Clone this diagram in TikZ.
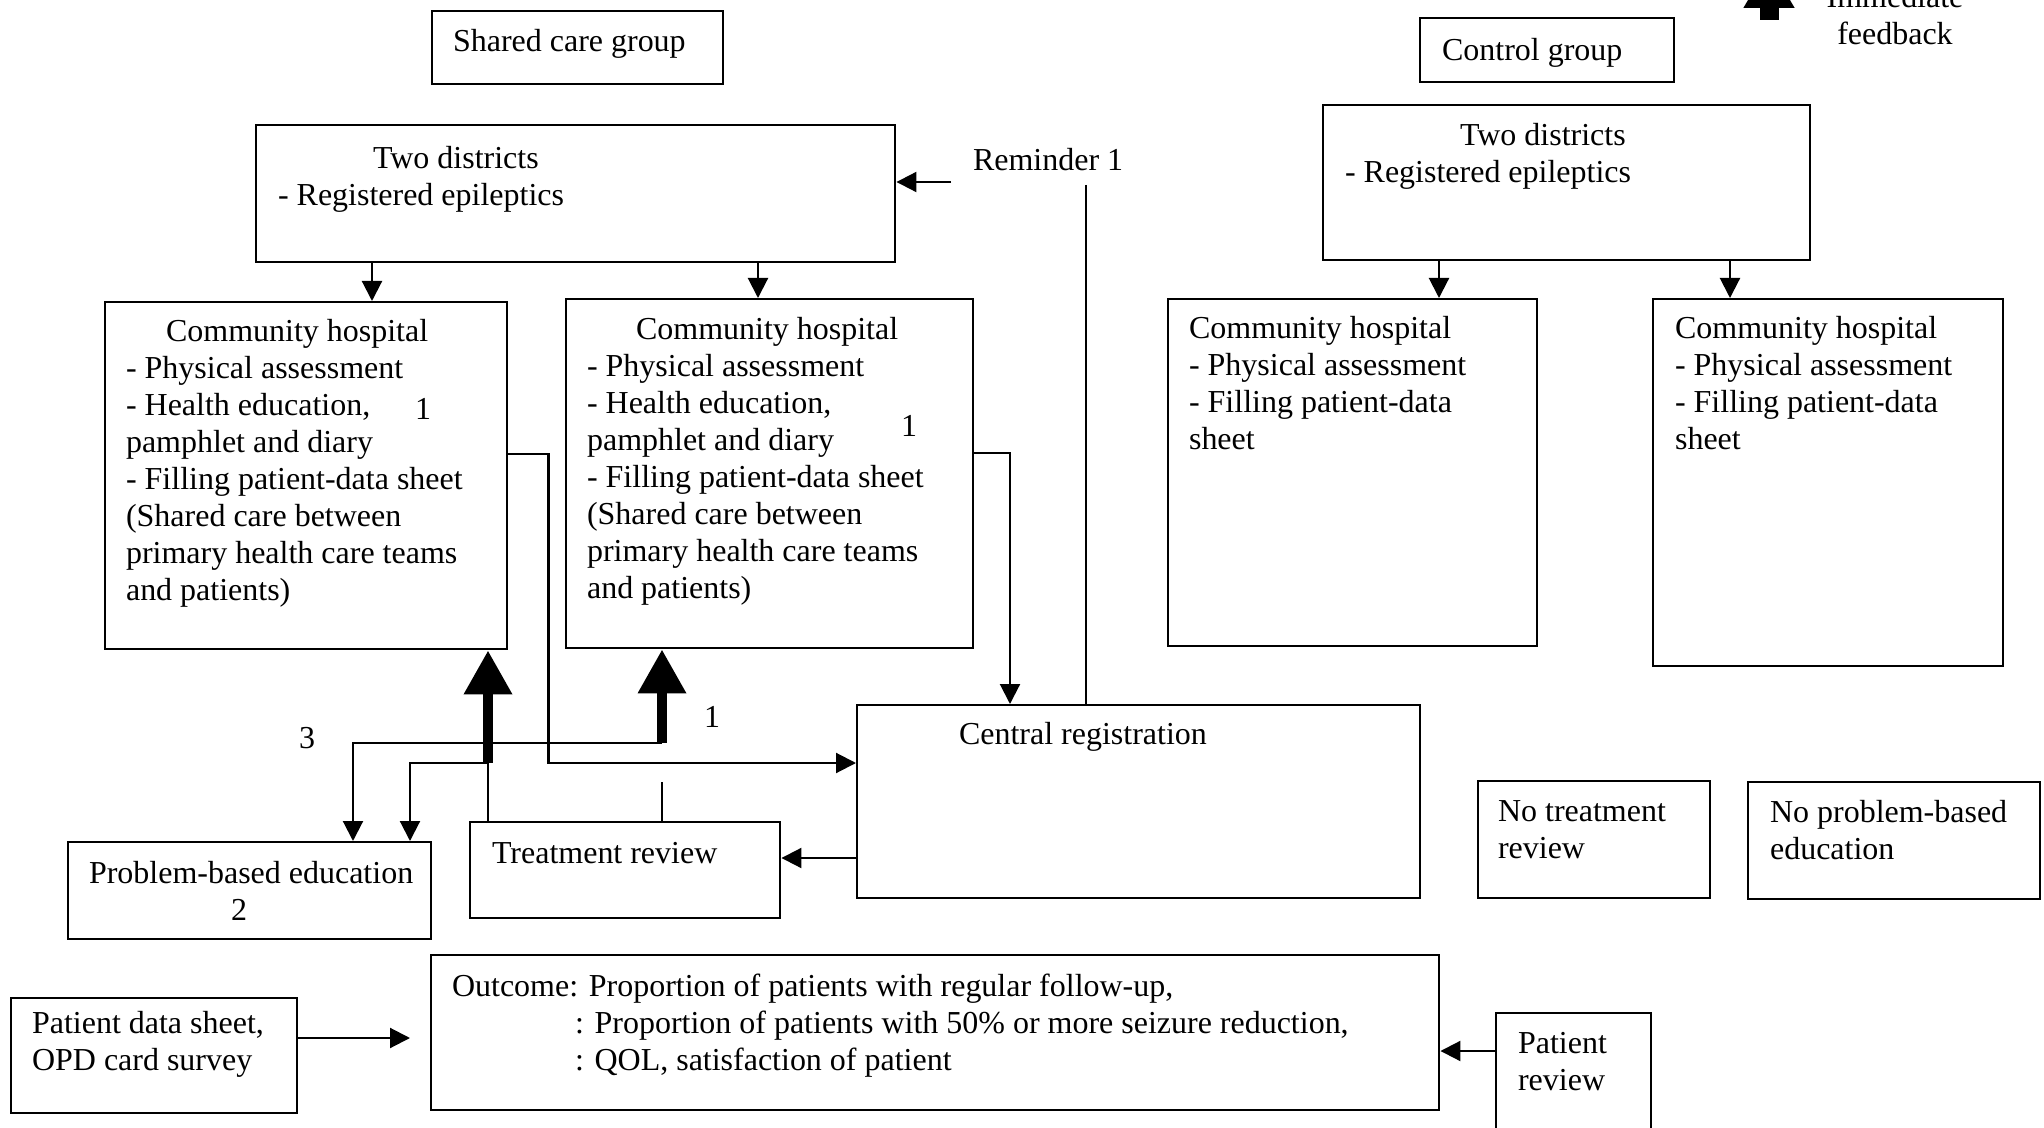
\documentclass[tikz,border=0pt]{standalone}
\usepackage{fontspec}
\setmainfont{Liberation Serif}
\usepackage{tikz}
\usetikzlibrary{arrows.meta}

\tikzset{
	box/.style={draw, line width=0.7pt, anchor=north west, inner sep=0pt},
	txt/.style={anchor=north west, inner sep=0pt, align=left, font=\fontsize{9.1}{10.55}\selectfont},
	tip/.style={line width=0.6pt, -{Triangle[length=2mm,width=2mm]}},
	fat/.style={line width=1mm, -{Triangle[length=4.4mm,width=4.6mm]}}
}

\begin{document}
\begin{tikzpicture}[x=0.1mm, y=-0.1mm, line width=0.6pt]
			\useasboundingbox (0,0) rectangle (2044,1128);
			\clip (0,0) rectangle (2044,1128);
			\foreach \nm/\x/\y/\w/\h in {sh/431/10/29.1/7.3, cg/1419/17/25.4/6.4, tdl/255/124/63.9/13.7, tdr/1322/104/48.7/15.5, ch1/104/301/40.2/34.7, ch2/565/298/40.7/34.9, ch3/1167/298/36.9/34.7, ch4/1652/298/35/36.7, cr/856/704/56.3/19.3, ntr/1477/780/23.2/11.7, npb/1747/781/29.2/11.7, pbe/67/841/36.3/9.7, tr/469/821/31/9.6, oc/430/954/100.8/15.5, pds/10/997/28.6/11.5, pr/1495/1012/15.5/12.3}{
				\node[box, minimum width=\w mm, minimum height=\h mm] (\nm) at (\x,\y) {};
			}
			\node[txt] (sht) at (452,28) {Shared care group};
			\node[txt] (cgt) at (1441,37) {Control group};
			\node[txt] (tdlt) at (277,145) {\hspace*{9.5mm}Two districts\\- Registered epileptics};
			\node[txt] (tdrt) at (1344,122) {\hspace*{11.5mm}Two districts\\- Registered epileptics};
			\node[txt] (ch1t) at (125,318) {\hspace*{4mm}Community hospital\\- Physical assessment\\- Health education,\\pamphlet and diary\\- Filling patient-data sheet\\(Shared care between\\primary health care teams\\and patients)};
			\node[txt] (ch2t) at (586,316) {\hspace*{4.9mm}Community hospital\\- Physical assessment\\- Health education,\\pamphlet and diary\\- Filling patient-data sheet\\(Shared care between\\primary health care teams\\and patients)};
			\node[txt] (ch3t) at (1188,315) {Community hospital\\- Physical assessment\\- Filling patient-data\\sheet};
			\node[txt] (ch4t) at (1674,315) {Community hospital\\- Physical assessment\\- Filling patient-data\\sheet};
			\node[txt] (rem) at (972,147) {Reminder 1};
			\node[txt] (crt) at (958,721) {Central registration};
			\node[txt] (ntrt) at (1497,799) {No treatment\\review};
			\node[txt] (npbt) at (1769,799) {No problem-based\\education};
			\node[txt] (pbet) at (88,860) {Problem-based education\\\hspace*{14.2mm}2};
			\node[txt] (trt) at (491,841) {Treatment review};
			\node[txt] (oct) at (451,973) {Outcome: Proportion of patients with regular follow-up,\\\hspace*{12.3mm}: Proportion of patients with 50\% or more seizure reduction,\\\hspace*{12.3mm}: QOL, satisfaction of patient};
			\node[txt] (pdst) at (31,1010) {Patient data sheet,\\OPD card survey};
			\node[txt] (prt) at (1517,1031) {Patient\\review};
			\node[txt] (one1) at (414,397) {1};
			\node[txt] (one2) at (900,414) {1};
			\node[txt] (one3) at (703,705) {1};
			\node[txt] (three) at (298,726) {3};
			\node[txt, anchor=north, align=center] (fbk) at (1895,-16) {Immediate\\feedback};
			\coordinate (remin) at (951,182);
			\coordinate (remdn) at (1086,185);
			\coordinate (j1) at (488,763);
			\coordinate (j2) at (662,743);
			\coordinate (leg) at (1769,20);
			\draw[tip] (remin) -- (remin -| tdl.east);
			\draw (remdn) -- (remdn |- cr.north);
			\foreach \from/\dx/\to in {tdl/117/ch1, tdl/503/ch2, tdr/117/ch3, tdr/408/ch4}{
				\path ([shift={(\dx,0)}]\from.south west) coordinate (s);
				\draw[tip] (s) -- (s |- \to.north);
			}
			\draw[tip] ([shift={(0,153)}]ch1.north east) -- ++(40,0) |- (j1 -| cr.west);
			\draw[tip] ([shift={(0,155)}]ch2.north east) -| ([shift={(154,0)}]cr.north west);
			\path ([shift={(0,154)}]cr.north west) coordinate (c);
			\draw[tip] (c) -- (c -| tr.east);
			\draw (j1 |- tr.north) -- (j1);
			\draw[tip] (j1) -| ([shift={(343,0)}]pbe.north west);
			\draw[tip] (j2) -| ([shift={(286,0)}]pbe.north west);
			\draw (j2 |- tr.north) -- ++(0,-39);
			\draw[fat] (j1) -- (j1 |- ch1.south);
			\draw[fat] (j2) -- (j2 |- ch2.south);
			\path ([shift={(0,41)}]pds.north east) coordinate (p);
			\draw[tip, shorten >=2mm] (p) -- (p -| oc.west);
			\path ([shift={(0,39)}]pr.north west) coordinate (q);
			\draw[tip] (q) -- (q -| oc.east);
			\draw[fat, line width=1.9mm, -{Triangle[length=4.4mm,width=4.8mm]}] (leg) -- ++(0,-56);
		\end{tikzpicture}
\end{document}
